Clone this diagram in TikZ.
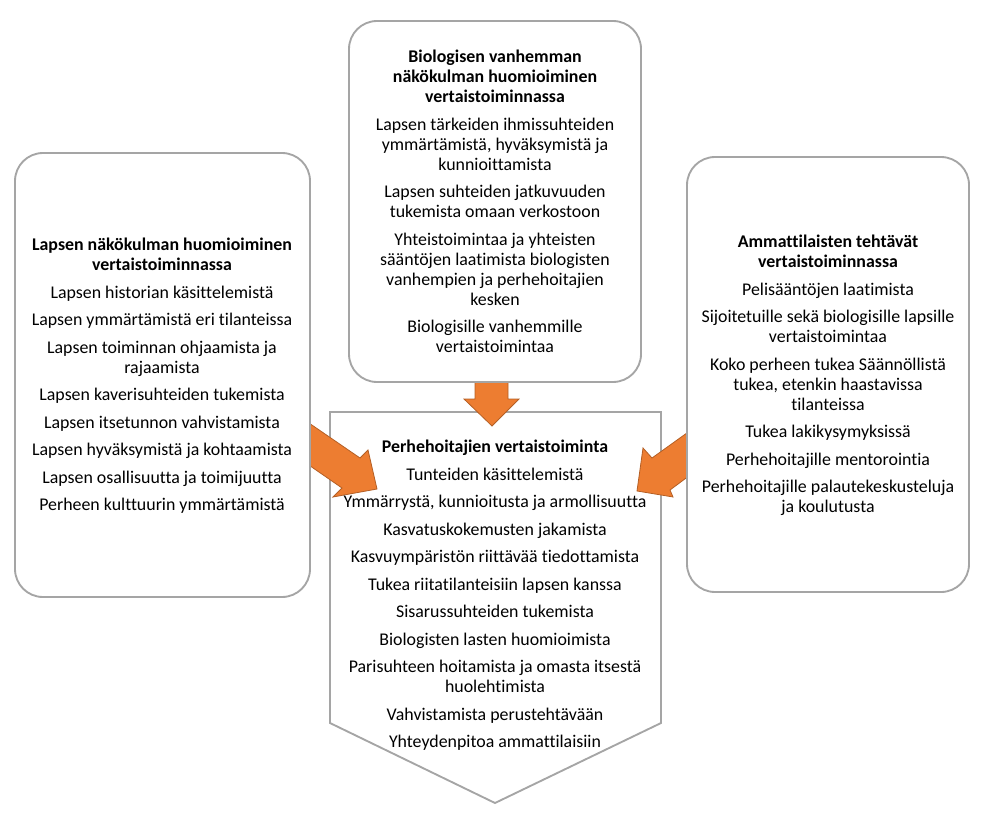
\documentclass[tikz,border=0pt]{standalone}
\usepackage{fontspec}
\setmainfont{Carlito}[Ligatures=CommonOff]
\definecolor{boxgray}{HTML}{A5A5A5}
\definecolor{arroworange}{HTML}{ED7D31}
\definecolor{arrowedge}{HTML}{B45F25}
\newcommand{\isep}{\\[5.6pt]}
\begin{document}
\begin{tikzpicture}[x=0.75pt,y=-0.75pt,
  panel/.style={draw=boxgray, line width=1.4pt, fill=white, rounded corners=21pt},
  pent/.style={draw=boxgray, line width=1.4pt, fill=white},
  blockarrow/.style={fill=arroworange, draw=arrowedge, line width=0.6pt, line join=miter},
  txt/.style={inner sep=0pt, align=center, font=\fontsize{13.4pt}{15pt}\selectfont, anchor=north},
]
\useasboundingbox (0,0) rectangle (987,817);

% centre pentagon (arrow pointing down)
\coordinate (pA) at (330,412);
\coordinate (pB) at (661,412);
\coordinate (pC) at (661,723);
\coordinate (pD) at (495,803);
\coordinate (pE) at (330,723);
\draw[pent] (pA) -- (pB) -- (pC) -- (pD) -- (pE) -- cycle;

% left block arrow
\draw[blockarrow] (290,410) -- (360,458) -- (368,450) -- (377,489) -- (333,497) -- (342,488) -- (290,452) -- cycle;
% right block arrow
\draw[blockarrow] (705,420) -- (652,458) -- (643,448) -- (637,491) -- (673,497) -- (670,490) -- (705,464) -- cycle;
% down block arrow
\draw[blockarrow] (475,376) -- (508,376) -- (508,399) -- (519,399) -- (492,426) -- (464,399) -- (475,399) -- cycle;

% panels
\draw[panel] (15,153) rectangle (310,597);
\draw[panel] (349,21) rectangle (641,382);
\draw[panel] (687,157) rectangle (969,592);

% texts
\node[txt] (ltext) at (162,238) {%
\textbf{Lapsen näkökulman huomioiminen}\\\textbf{vertaistoiminnassa}\isep
Lapsen historian käsittelemistä\isep
Lapsen ymmärtämistä eri tilanteissa\isep
Lapsen toiminnan ohjaamista ja\\rajaamista\isep
Lapsen kaverisuhteiden tukemista\isep
Lapsen itsetunnon vahvistamista\isep
Lapsen hyväksymistä ja kohtaamista\isep
Lapsen osallisuutta ja toimijuutta\isep
Perheen kulttuurin ymmärtämistä};

\node[txt] (ttext) at (495,50) {%
\textbf{Biologisen vanhemman}\\\textbf{näkökulman huomioiminen}\\\textbf{vertaistoiminnassa}\isep
Lapsen tärkeiden ihmissuhteiden\\ymmärtämistä, hyväksymistä ja\\kunnioittamista\isep
Lapsen suhteiden jatkuvuuden\\tukemista omaan verkostoon\isep
Yhteistoimintaa ja yhteisten\\sääntöjen laatimista biologisten\\vanhempien ja perhehoitajien\\kesken\isep
Biologisille vanhemmille\\vertaistoimintaa};

\node[txt] (rtext) at (828,235) {%
\textbf{Ammattilaisten tehtävät}\\\textbf{vertaistoiminnassa}\isep
Pelisääntöjen laatimista\isep
Sijoitetuille sekä biologisille lapsille\\vertaistoimintaa\isep
Koko perheen tukea Säännöllistä\\tukea, etenkin haastavissa\\tilanteissa\isep
Tukea lakikysymyksissä\isep
Perhehoitajille mentorointia\isep
Perhehoitajille palautekeskusteluja\\ja koulutusta};

\node[txt] (ctext) at (495,440) {%
\textbf{Perhehoitajien vertaistoiminta}\isep
Tunteiden käsittelemistä\isep
Ymmärrystä, kunnioitusta ja armollisuutta\isep
Kasvatuskokemusten jakamista\isep
Kasvuympäristön riittävää tiedottamista\isep
Tukea riitatilanteisiin lapsen kanssa\isep
Sisarussuhteiden tukemista\isep
Biologisten lasten huomioimista\isep
Parisuhteen hoitamista ja omasta itsestä\\huolehtimista\isep
Vahvistamista perustehtävään\isep
Yhteydenpitoa ammattilaisiin};
\end{tikzpicture}
\end{document}
